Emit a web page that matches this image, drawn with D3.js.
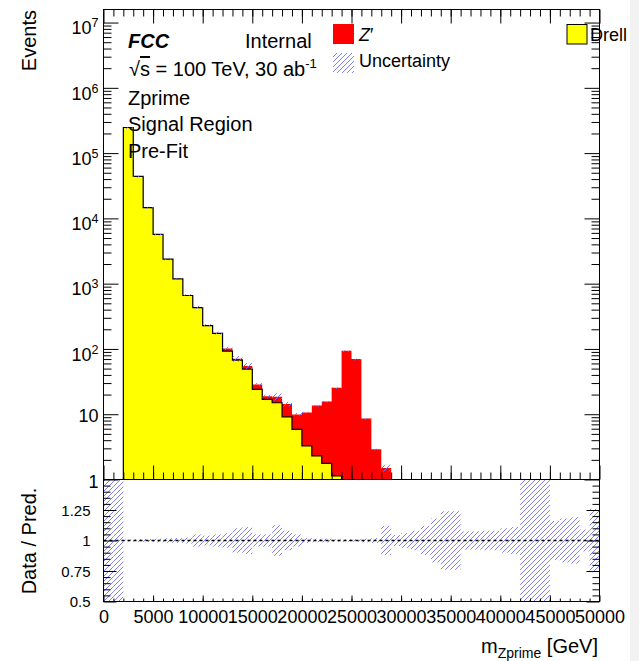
<!DOCTYPE html>
<html>
<head>
<meta charset="utf-8">
<title>Zprime Signal Region Pre-Fit</title>
<script src="https://cdn.jsdelivr.net/npm/d3@7"></script>
<style>
  body { margin: 0; background: #fff; }
  svg { display: block; font-family: "Liberation Sans", Arial, sans-serif; }
</style>
</head>
<body>
<svg id="chart" width="639" height="661"></svg>
<script>
// bins of m_Zprime, 1000 GeV wide
var binWidth = 1000;
var binLow = [0, 1000, 2000, 3000, 4000, 5000, 6000, 7000, 8000, 9000,
  10000, 11000, 12000, 13000, 14000, 15000, 16000, 17000, 18000, 19000,
  20000, 21000, 22000, 23000, 24000, 25000, 26000, 27000, 28000, 29000,
  30000, 31000, 32000, 33000, 34000, 35000, 36000, 37000, 38000, 39000,
  40000, 41000, 42000, 43000, 44000, 45000, 46000, 47000, 48000, 49000];

var drell = [0, 0, 247000, 44000, 14650, 5680, 2370, 1180, 659, 431,
  227, 173, 92.9, 67.6, 49.2, 24.0, 16.9, 15.0, 9.12, 5.84,
  3.27, 2.30, 1.76, 1.14, 0, 0, 0, 0, 0, 0,
  0, 0, 0, 0, 0, 0, 0, 0, 0, 0,
  0, 0, 0, 0, 0, 0, 0, 0, 0, 0];

var zprime = [0, 0, 0, 0, 0, 1, 2, 4, 12, 5,
  3, 2, 9, 3.2, 5.5, 4.6, 2.0, 3.5, 5.2, 4.1,
  7.4, 11.3, 13.9, 24.3, 93.8, 70.0, 8.6, 2.9, 1.5, 0,
  0, 0, 0, 0, 0, 0, 0, 0, 0, 0,
  0, 0, 0, 0, 0, 0, 0, 0, 0, 0];

// relative uncertainty per bin (half width of the band)
var relErr = [1, 1, 0.008, 0.01, 0.012, 0.015, 0.018, 0.02, 0.025, 0.05,
  0.04, 0.05, 0.06, 0.1, 0.11, 0.05, 0.05, 0.125, 0.08, 0.05,
  0.02, 0.015, 0.015, 0.01, 0.01, 0.01, 0.015, 0.02, 0.12, 0.045,
  0.06, 0.08, 0.12, 0.18, 0.24, 0.24, 0.075, 0.075, 0.08, 0.08,
  0.1, 0.11, 0.6, 0.6, 0.6, 0.16, 0.18, 0.19, 0.09, 0.26];

var xTicks = [0, 5000, 10000, 15000, 20000, 25000, 30000, 35000, 40000, 45000, 50000];
var xTickLabels = ["0", "5000", "10000", "15000", "20000", "25000", "30000", "35000", "40000", "45000", "50000"];
var yDecades = [1, 10, 100, 1e3, 1e4, 1e5, 1e6, 1e7];
var yDecadeBase = ["1", "10", "10", "10", "10", "10", "10", "10"];
var yDecadeExp = ["", "", "2", "3", "4", "5", "6", "7"];
var ratioTicks = [0.5, 0.75, 1, 1.25];
var ratioTickLabels = ["0.5", "0.75", "1", "1.25"];

var svg = d3.select("#chart");
var pLeft = 103.5, pRight = 599.5, pTop = 9.5, pMid = 479.5, pBottom = 601.5;

var x = d3.scaleLinear().domain([0, 50000]).range([pLeft, pRight]);
var y = d3.scaleLog().domain([1, Math.pow(10, 7.2)]).range([pMid, pTop]).clamp(true);
var yr = d3.scaleLinear().domain([0.5, 1.5]).range([pBottom, pMid]).clamp(true);

var bins = binLow.map(function(lo, i) {
  return { lo: lo, hi: lo + binWidth, drell: drell[i], zp: zprime[i],
           total: drell[i] + zprime[i], err: relErr[i] };
});

svg.append("rect").attr("x", 630).attr("y", 0).attr("width", 9).attr("height", 661).attr("fill", "#f2f2f2");

var defs = svg.append("defs");
defs.append("pattern").attr("id", "hatch").attr("patternUnits", "userSpaceOnUse")
    .attr("width", 5).attr("height", 5)
  .append("path").attr("d", "M-1,1 L1,-1 M0,5 L5,0 M4,6 L6,4")
    .attr("stroke", "#6f6fff").attr("stroke-width", 0.9);

// step points for a histogram: one point per bin plus the closing edge
function stepPoints(key) {
  var used = bins.filter(function(d) { return d[key] > 0; });
  var first = bins.indexOf(used[0]), last = bins.indexOf(used[used.length - 1]);
  var seg = bins.slice(first, last + 1);
  return seg.map(function(d) { return { x: d.lo, v: d[key] }; })
    .concat([{ x: seg[seg.length - 1].hi, v: seg[seg.length - 1][key] }]);
}
var stepArea = d3.area().curve(d3.curveStepAfter)
  .x(function(d) { return x(d.x); }).y0(pMid).y1(function(d) { return d.v > 0 ? y(d.v) : pMid; });

// stacked histogram: red total, yellow Drell-Yan over it
svg.append("path").datum(stepPoints("total")).attr("fill", "#ff0000").attr("d", stepArea);
var drellPts = stepPoints("drell");
svg.append("path").datum(drellPts).attr("fill", "#ffff00").attr("d", stepArea);

var outlinePts = [{ x: drellPts[0].x, v: 1 }].concat(drellPts)
  .concat([{ x: drellPts[drellPts.length - 1].x, v: 1 }]);
svg.append("path").datum(outlinePts)
  .attr("fill", "none").attr("stroke", "#000").attr("stroke-width", 1.2)
  .attr("d", d3.line().curve(d3.curveStepAfter)
    .x(function(d) { return x(d.x); }).y(function(d) { return y(d.v); }));

// uncertainty band in upper panel
svg.append("g").selectAll("rect").data(bins.filter(function(d) { return d.total > 0; }))
  .join("rect")
    .attr("x", function(d) { return x(d.lo); })
    .attr("width", function(d) { return x(d.hi) - x(d.lo); })
    .attr("y", function(d) { return y(d.total * (1 + d.err)); })
    .attr("height", function(d) { return Math.max(1.5, y(d.total * (1 - d.err)) - y(d.total * (1 + d.err))); })
    .attr("fill", "url(#hatch)");

// ratio panel band and line at 1
svg.append("g").selectAll("rect").data(bins)
  .join("rect")
    .attr("x", function(d) { return x(d.lo); })
    .attr("width", function(d) { return x(d.hi) - x(d.lo); })
    .attr("y", function(d) { return yr(1 + d.err); })
    .attr("height", function(d) { return Math.max(1.5, yr(1 - d.err) - yr(1 + d.err)); })
    .attr("fill", "url(#hatch)");

svg.append("line").attr("x1", pLeft).attr("x2", pRight).attr("y1", yr(1)).attr("y2", yr(1))
  .attr("stroke", "#000").attr("stroke-width", 1.5).attr("stroke-dasharray", "3,3");

// axes
function tickAxis(axis, tx, ty) {
  var g = svg.append("g").attr("transform", "translate(" + tx + "," + ty + ")").call(axis);
  g.select(".domain").remove();
  g.selectAll("line").attr("stroke", "#000");
  return g;
}
var yMinor = [];
yDecades.slice(0, 7).forEach(function(dec) { [2, 3, 4, 5, 6, 7, 8, 9].forEach(function(k) { yMinor.push(k * dec); }); });
var xMinor = binLow.slice(1);
var rMinor = [0.55, 0.6, 0.65, 0.7, 0.8, 0.85, 0.9, 0.95, 1.05, 1.1, 1.15, 1.2, 1.3, 1.35, 1.4, 1.45];

// upper panel
var gy = tickAxis(d3.axisLeft(y).tickValues(yDecades).tickSizeInner(-15).tickSizeOuter(0).tickPadding(5).tickFormat(""), pLeft, 0);
gy.selectAll(".tick text").each(function(d, i) {
  var t = d3.select(this).attr("font-size", 18).attr("fill", "#000").attr("font-family", "Liberation Sans, Arial, sans-serif")
    .attr("dy", yDecadeExp[i] ? "0.62em" : "0.42em");
  t.append("tspan").text(yDecadeBase[i]);
  if (yDecadeExp[i]) t.append("tspan").attr("dy", "-0.55em").attr("font-size", 12.5).text(yDecadeExp[i]);
});
tickAxis(d3.axisLeft(y).tickValues(yMinor).tickSizeInner(-8).tickSizeOuter(0).tickFormat(""), pLeft, 0);
tickAxis(d3.axisRight(y).tickValues(yDecades).tickSizeInner(-15).tickSizeOuter(0).tickFormat(""), pRight, 0);
tickAxis(d3.axisRight(y).tickValues(yMinor).tickSizeInner(-8).tickSizeOuter(0).tickFormat(""), pRight, 0);
tickAxis(d3.axisTop(x).tickValues(xTicks).tickSizeInner(-14).tickSizeOuter(0).tickFormat(""), 0, pTop);
tickAxis(d3.axisTop(x).tickValues(xMinor).tickSizeInner(-7).tickSizeOuter(0).tickFormat(""), 0, pTop);
tickAxis(d3.axisBottom(x).tickValues(xTicks).tickSizeInner(-14).tickSizeOuter(0).tickFormat(""), 0, pMid);
tickAxis(d3.axisBottom(x).tickValues(xMinor).tickSizeInner(-7).tickSizeOuter(0).tickFormat(""), 0, pMid);

// ratio panel
var gr = tickAxis(d3.axisLeft(yr).tickValues(ratioTicks).tickSizeInner(-13).tickSizeOuter(0).tickPadding(13)
  .tickFormat(function(d, i) { return ratioTickLabels[i]; }), pLeft, 0);
gr.selectAll(".tick text").attr("font-size", 15).attr("fill", "#000").attr("font-family", "Liberation Sans, Arial, sans-serif").attr("dy", "0.36em");
tickAxis(d3.axisLeft(yr).tickValues(rMinor).tickSizeInner(-7).tickSizeOuter(0).tickFormat(""), pLeft, 0);
tickAxis(d3.axisRight(yr).tickValues(ratioTicks).tickSizeInner(-13).tickSizeOuter(0).tickFormat(""), pRight, 0);
tickAxis(d3.axisRight(yr).tickValues(rMinor).tickSizeInner(-7).tickSizeOuter(0).tickFormat(""), pRight, 0);
var gx = tickAxis(d3.axisBottom(x).tickValues(xTicks).tickSizeInner(-6).tickSizeOuter(0).tickPadding(9)
  .tickFormat(function(d, i) { return xTickLabels[i]; }), 0, pBottom);
gx.selectAll(".tick text").attr("font-size", 18).attr("fill", "#000").attr("font-family", "Liberation Sans, Arial, sans-serif");
tickAxis(d3.axisBottom(x).tickValues(xMinor).tickSizeInner(-3).tickSizeOuter(0).tickFormat(""), 0, pBottom);

// frames
svg.append("rect").attr("x", pLeft).attr("y", pTop).attr("width", pRight - pLeft).attr("height", pMid - pTop)
  .attr("fill", "none").attr("stroke", "#000");
svg.append("rect").attr("x", pLeft).attr("y", pMid).attr("width", pRight - pLeft).attr("height", pBottom - pMid)
  .attr("fill", "none").attr("stroke", "#000");

// axis titles
svg.append("text").attr("transform", "translate(36,10) rotate(-90)").attr("text-anchor", "end")
  .attr("font-size", 20).text("Events");
svg.append("text").attr("transform", "translate(36,541) rotate(-90)").attr("text-anchor", "middle")
  .attr("font-size", 20).text("Data / Pred.");
var xt = svg.append("text").attr("x", 598).attr("y", 653).attr("text-anchor", "end").attr("font-size", 20);
xt.append("tspan").text("m");
xt.append("tspan").attr("dy", 5).attr("font-size", 14).text("Zprime");
xt.append("tspan").attr("dy", -5).text(" [GeV]");

// labels
svg.append("text").attr("x", 128).attr("y", 48).attr("font-size", 20).attr("font-weight", "bold")
  .attr("font-style", "italic").text("FCC");
svg.append("text").attr("x", 245).attr("y", 48).attr("font-size", 20).text("Internal");
var lumi = svg.append("text").attr("x", 129).attr("y", 76).attr("font-size", 20);
lumi.append("tspan").text("\u221A");
lumi.append("tspan").attr("text-decoration", "overline").text("s");
lumi.append("tspan").text(" = 100 TeV, 30 ab");
lumi.append("tspan").attr("dy", -8).attr("font-size", 13).text("-1");
svg.append("text").attr("x", 128).attr("y", 105).attr("font-size", 20).text("Zprime");
svg.append("text").attr("x", 128).attr("y", 131).attr("font-size", 20).text("Signal Region");
svg.append("text").attr("x", 128).attr("y", 158).attr("font-size", 20).text("Pre-Fit");

// legend
svg.append("rect").attr("x", 333).attr("y", 24).attr("width", 21).attr("height", 20).attr("fill", "#ff0000");
var zl = svg.append("text").attr("x", 359).attr("y", 41).attr("font-size", 18).attr("font-style", "italic");
zl.append("tspan").text("Z");
zl.append("tspan").attr("font-style", "normal").text("\u2032");
svg.append("rect").attr("x", 333).attr("y", 53).attr("width", 21).attr("height", 20).attr("fill", "url(#hatch)");
svg.append("text").attr("x", 359).attr("y", 67).attr("font-size", 18).text("Uncertainty");
svg.append("rect").attr("x", 567).attr("y", 24.5).attr("width", 20).attr("height", 19.5)
  .attr("fill", "#ffff00").attr("stroke", "#000");
svg.append("text").attr("x", 590).attr("y", 41).attr("font-size", 18).text("Drell");
</script>
</body>
</html>
